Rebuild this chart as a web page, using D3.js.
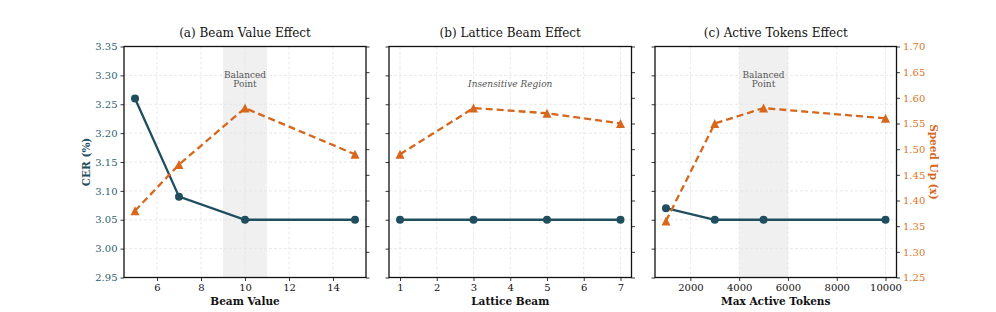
<!DOCTYPE html>
<html>
<head>
<meta charset="utf-8">
<script src="https://cdn.jsdelivr.net/npm/d3@7"></script>
<style>
  body { margin: 0; background: #fff; }
  text { font-family: "DejaVu Serif", serif; }
</style>
</head>
<body>
<div id="chart"></div>
<script>
const width = 996;
const height = 312;
const cerColor = "#1f4e5f";
const speedColor = "#d7671c";

// panel (a)
const beamValues = [5, 7, 10, 15];
const beamCer = [3.26, 3.09, 3.05, 3.05];
const beamSpeed = [1.38, 1.47, 1.58, 1.49];
// panel (b)
const latticeValues = [1, 3, 5, 7];
const latticeCer = [3.05, 3.05, 3.05, 3.05];
const latticeSpeed = [1.49, 1.58, 1.57, 1.55];
// panel (c)
const tokenValues = [1000, 3000, 5000, 10000];
const tokenCer = [3.07, 3.05, 3.05, 3.05];
const tokenSpeed = [1.36, 1.55, 1.58, 1.56];

const cerTicks = [2.95, 3.00, 3.05, 3.10, 3.15, 3.20, 3.25, 3.30, 3.35];
const speedTicks = [1.25, 1.30, 1.35, 1.40, 1.45, 1.50, 1.55, 1.60, 1.65, 1.70];

const plotTop = 46.5, plotBottom = 277.5;

const panels = [
  { title: "(a) Beam Value Effect", xlabel: "Beam Value", x: beamValues, cer: beamCer, speed: beamSpeed,
    left: 124, right: 366, xdomain: [4.5, 15.5], xticks: [6, 8, 10, 12, 14], fmt: d => d,
    band: [9, 11], note: ["Balanced", "Point"], noteX: 10, leftLabels: true, rightLabels: false },
  { title: "(b) Lattice Beam Effect", xlabel: "Lattice Beam", x: latticeValues, cer: latticeCer, speed: latticeSpeed,
    left: 389, right: 631.5, xdomain: [0.7, 7.3], xticks: [1, 2, 3, 4, 5, 6, 7], fmt: d => d,
    band: null, note: ["Insensitive Region"], noteX: 4, italic: true, leftLabels: false, rightLabels: false },
  { title: "(c) Active Tokens Effect", xlabel: "Max Active Tokens", x: tokenValues, cer: tokenCer, speed: tokenSpeed,
    left: 655, right: 896.5, xdomain: [550, 10450], xticks: [2000, 4000, 6000, 8000, 10000], fmt: d => d,
    band: [4000, 6000], note: ["Balanced", "Point"], noteX: 5000, leftLabels: false, rightLabels: true }
];

const svg = d3.select("#chart").append("svg")
  .attr("width", width)
  .attr("height", height);

const y = d3.scaleLinear().domain([2.95, 3.35]).range([plotBottom, plotTop]);
const y2 = d3.scaleLinear().domain([1.25, 1.70]).range([plotBottom, plotTop]);

panels.forEach(p => {
  const x = d3.scaleLinear().domain(p.xdomain).range([p.left, p.right]);
  const g = svg.append("g");

  if (p.band) {
    g.append("rect")
      .attr("x", x(p.band[0]))
      .attr("y", plotTop)
      .attr("width", x(p.band[1]) - x(p.band[0]))
      .attr("height", plotBottom - plotTop)
      .attr("fill", "#f0f0f0");
  }

  // grid
  g.selectAll(".gx").data(p.xticks).enter().append("line")
    .attr("x1", d => x(d)).attr("x2", d => x(d))
    .attr("y1", plotTop).attr("y2", plotBottom)
    .attr("stroke", "#e3e3e3").attr("stroke-width", 0.8).attr("stroke-dasharray", "3,2");
  g.selectAll(".gy").data(cerTicks).enter().append("line")
    .attr("x1", p.left).attr("x2", p.right)
    .attr("y1", d => y(d)).attr("y2", d => y(d))
    .attr("stroke", "#e3e3e3").attr("stroke-width", 0.8).attr("stroke-dasharray", "3,2");

  // annotation
  p.note.forEach((t, i) => {
    g.append("text")
      .attr("x", x(p.noteX))
      .attr("y", p.italic ? 87 : 77.5 + i * 9.5)
      .attr("text-anchor", "middle")
      .attr("font-size", 9)
      .attr("font-style", p.italic ? "italic" : null)
      .attr("fill", "#555")
      .text(t);
  });

  // axes
  const xAxis = g.append("g")
    .attr("transform", `translate(0,${plotBottom})`)
    .call(d3.axisBottom(x).tickValues(p.xticks).tickFormat(p.fmt).tickSize(3.5).tickPadding(3));
  const yAxis = g.append("g")
    .attr("transform", `translate(${p.left},0)`)
    .call(d3.axisLeft(y).tickValues(cerTicks).tickFormat(p.leftLabels ? d3.format(".2f") : "").tickSize(3.5).tickPadding(3));
  const y2Axis = g.append("g")
    .attr("transform", `translate(${p.right},0)`)
    .call(d3.axisRight(y2).tickValues(speedTicks).tickFormat(p.rightLabels ? d3.format(".2f") : "").tickSize(3.5).tickPadding(3));

  [xAxis, yAxis, y2Axis].forEach(a => {
    a.select(".domain").remove();
    a.selectAll(".tick line").attr("stroke", "#222").attr("stroke-width", 0.9);
    a.selectAll(".tick text").attr("font-family", "DejaVu Serif").attr("font-size", 10);
  });
  xAxis.selectAll(".tick text").attr("fill", "#111");
  yAxis.selectAll(".tick text").attr("fill", "#2f5f70");
  y2Axis.selectAll(".tick text").attr("fill", "#dc7426");

  // frame
  g.append("rect")
    .attr("x", p.left).attr("y", plotTop)
    .attr("width", p.right - p.left).attr("height", plotBottom - plotTop)
    .attr("fill", "none").attr("stroke", "#111").attr("stroke-width", 1.3);

  // CER line
  const cerPts = p.x.map((v, i) => [v, p.cer[i]]);
  g.append("path")
    .datum(cerPts)
    .attr("fill", "none")
    .attr("stroke", cerColor)
    .attr("stroke-width", 2.3)
    .attr("d", d3.line().x(d => x(d[0])).y(d => y(d[1])));
  g.selectAll(".cer").data(cerPts).enter().append("circle")
    .attr("cx", d => x(d[0])).attr("cy", d => y(d[1]))
    .attr("r", 4).attr("fill", cerColor);

  // speed line
  const spPts = p.x.map((v, i) => [v, p.speed[i]]);
  g.append("path")
    .datum(spPts)
    .attr("fill", "none")
    .attr("stroke", speedColor)
    .attr("stroke-width", 2.3)
    .attr("stroke-dasharray", "7,4")
    .attr("d", d3.line().x(d => x(d[0])).y(d => y2(d[1])));
  g.selectAll(".sp").data(spPts).enter().append("path")
    .attr("transform", d => `translate(${x(d[0])},${y2(d[1])})`)
    .attr("d", "M0,-4.5L4.5,4.5L-4.5,4.5Z")
    .attr("fill", speedColor);

  // title and x label
  g.append("text")
    .attr("x", (p.left + p.right) / 2).attr("y", 37)
    .attr("text-anchor", "middle").attr("font-size", 12).attr("fill", "#111")
    .text(p.title);
  g.append("text")
    .attr("x", (p.left + p.right) / 2).attr("y", 304.5)
    .attr("text-anchor", "middle").attr("font-size", 10.5).attr("font-weight", "bold").attr("fill", "#111")
    .text(p.xlabel);
});

svg.append("text")
  .attr("transform", `translate(90,${(plotTop + plotBottom) / 2}) rotate(-90)`)
  .attr("text-anchor", "middle").attr("font-size", 10.5).attr("font-weight", "bold")
  .attr("fill", cerColor)
  .text("CER (%)");

svg.append("text")
  .attr("transform", `translate(930,${(plotTop + plotBottom) / 2}) rotate(90)`)
  .attr("text-anchor", "middle").attr("font-size", 10.5).attr("font-weight", "bold")
  .attr("fill", speedColor)
  .text("Speed Up (x)");
</script>
</body>
</html>
